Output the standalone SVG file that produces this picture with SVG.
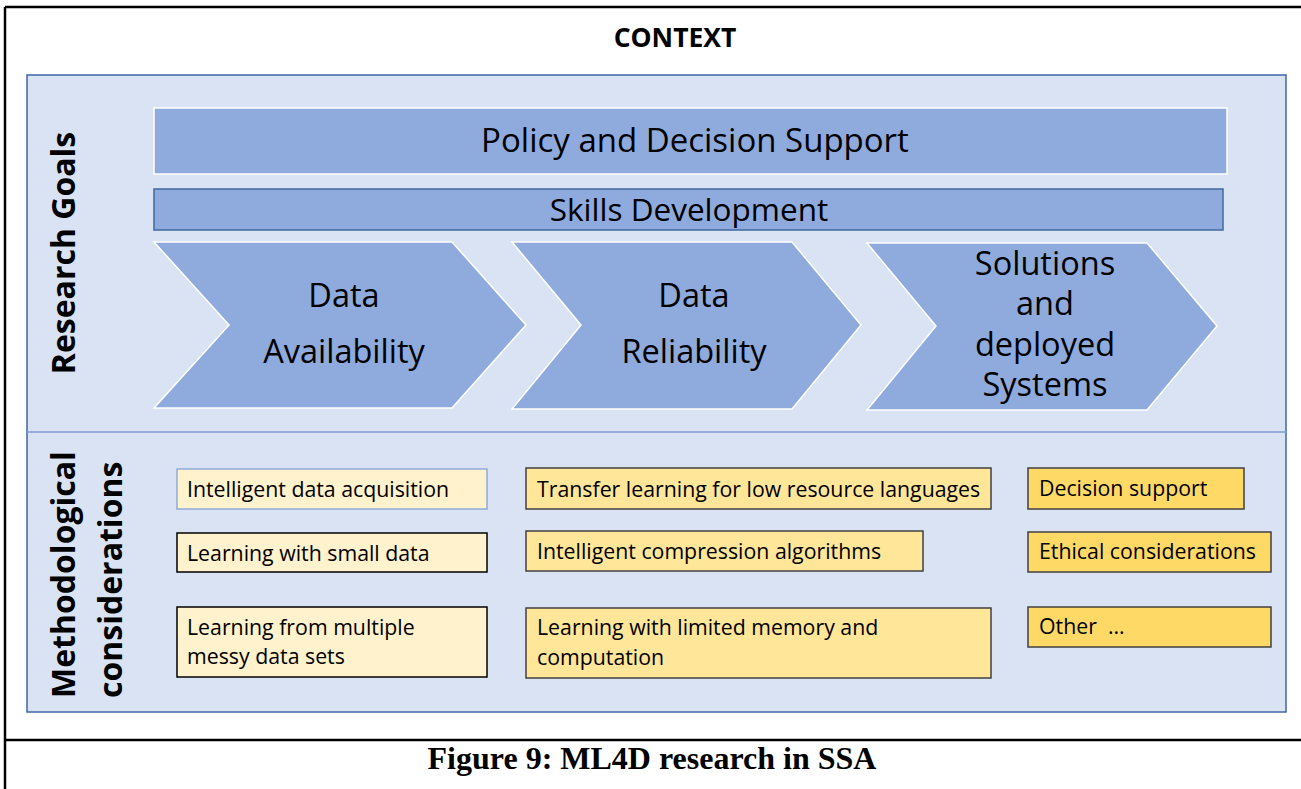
<svg xmlns="http://www.w3.org/2000/svg" width="1301" height="789" viewBox="0 0 1301 789">
<style>
.frame{stroke:#000;stroke-width:2.5;fill:none}
.panel{fill:#DAE3F3;stroke:#3F66A8;stroke-width:1.5}
.bar{fill:#8FAADC}
.chev{fill:#8FAADC;stroke:#fff;stroke-width:1.5}
.t{font-family:"Open Sans","Liberation Sans",sans-serif;fill:#000}
.big{text-anchor:middle}
.cv{font-size:32.5px}
.lab{font-size:32px;font-weight:bold}
.sm{font-size:21.3px}
.y1{fill:#FFF2CC}
.y2{fill:#FFE699;stroke:#404040;stroke-width:1.5}
.y3{fill:#FFD966;stroke:#404040;stroke-width:1.5}
</style>
<rect width="1301" height="789" fill="#fff"/>
<g id="frame">
<line class="frame" x1="5" y1="7" x2="1301" y2="7"/>
<line class="frame" x1="5" y1="7" x2="5" y2="789"/>
<line class="frame" x1="5" y1="740" x2="1301" y2="740"/>
</g>
<g id="context">
<text class="t" x="675" y="47" font-size="26.5" font-weight="bold" text-anchor="middle">CONTEXT</text>
</g>
<g id="panel">
<rect class="panel" x="27" y="75" width="1259" height="637"/>
<line x1="27" y1="432" x2="1286" y2="432" stroke="#7F9BD0" stroke-width="1.5"/>
</g>
<g id="label-goals">
<text class="t lab" transform="translate(75,253) rotate(-90)" text-anchor="middle">Research Goals</text>
</g>
<g id="label-method">
<text class="t lab" transform="translate(75,698) rotate(-90)">Methodological</text>
<text class="t lab" transform="translate(122,698) rotate(-90)">considerations</text>
</g>
<g id="policy">
<rect class="bar" x="154" y="108" width="1073" height="66" stroke="#fff" stroke-width="1.5"/>
<text class="t big" x="695" y="152" style="font-size:33px">Policy and Decision Support</text>
</g>
<g id="skills">
<rect class="bar" x="154" y="189" width="1069" height="41" stroke="#41689C" stroke-width="1.5"/>
<text class="t big" x="689" y="221" style="font-size:31.5px">Skills Development</text>
</g>
<g id="chev-availability">
<polygon class="chev" points="154,242 452,242 526,325 452,408 154,408 229,325"/>
<text class="t big cv" x="344" y="307">Data</text>
<text class="t big cv" x="344" y="363">Availability</text>
</g>
<g id="chev-reliability">
<polygon class="chev" points="512,242 792,242 861,325 792,409 512,409 581,325"/>
<text class="t big cv" x="694" y="307">Data</text>
<text class="t big cv" x="694" y="363">Reliability</text>
</g>
<g id="chev-solutions">
<polygon class="chev" points="867,243 1147,243 1217,326 1147,410 867,410 936,326"/>
<text class="t big cv" x="1045" y="275">Solutions</text>
<text class="t big cv" x="1045" y="315">and</text>
<text class="t big cv" x="1045" y="356">deployed</text>
<text class="t big cv" x="1045" y="396">Systems</text>
</g>
<g id="m-acq">
<rect class="y1" x="177" y="469" width="310" height="40" stroke="#8FAADC" stroke-width="1.5"/>
<text class="t sm" x="187" y="497">Intelligent data acquisition</text>
</g>
<g id="m-small">
<rect class="y1" x="177" y="533" width="310" height="39" stroke="#000" stroke-width="1.5"/>
<text class="t sm" x="187" y="561">Learning with small data</text>
</g>
<g id="m-messy">
<rect class="y1" x="177" y="607" width="310" height="70" stroke="#000" stroke-width="1.5"/>
<text class="t sm" x="187" y="635">Learning from multiple</text>
<text class="t sm" x="187" y="664">messy data sets</text>
</g>
<g id="m-transfer">
<rect class="y2" x="526" y="468" width="465" height="41"/>
<text class="t sm" x="537" y="497">Transfer learning for low resource languages</text>
</g>
<g id="m-compress">
<rect class="y2" x="526" y="531" width="397" height="40"/>
<text class="t sm" x="537" y="559">Intelligent compression algorithms</text>
</g>
<g id="m-memory">
<rect class="y2" x="526" y="608" width="465" height="70"/>
<text class="t sm" x="537" y="635">Learning with limited memory and</text>
<text class="t sm" x="537" y="665">computation</text>
</g>
<g id="m-decision">
<rect class="y3" x="1028" y="468" width="216" height="41"/>
<text class="t sm" x="1039" y="496">Decision support</text>
</g>
<g id="m-ethical">
<rect class="y3" x="1028" y="532" width="243" height="40"/>
<text class="t sm" x="1039" y="559">Ethical considerations</text>
</g>
<g id="m-other">
<rect class="y3" x="1028" y="607" width="243" height="40"/>
<text class="t sm" x="1039" y="634" xml:space="preserve">Other  …</text>
</g>
<g id="connectors"></g>
<g id="caption">
<text x="652" y="769" font-family="'Liberation Serif','Times New Roman',serif" font-size="32" font-weight="bold" text-anchor="middle">Figure 9: ML4D research in SSA</text>
</g>
</svg>
